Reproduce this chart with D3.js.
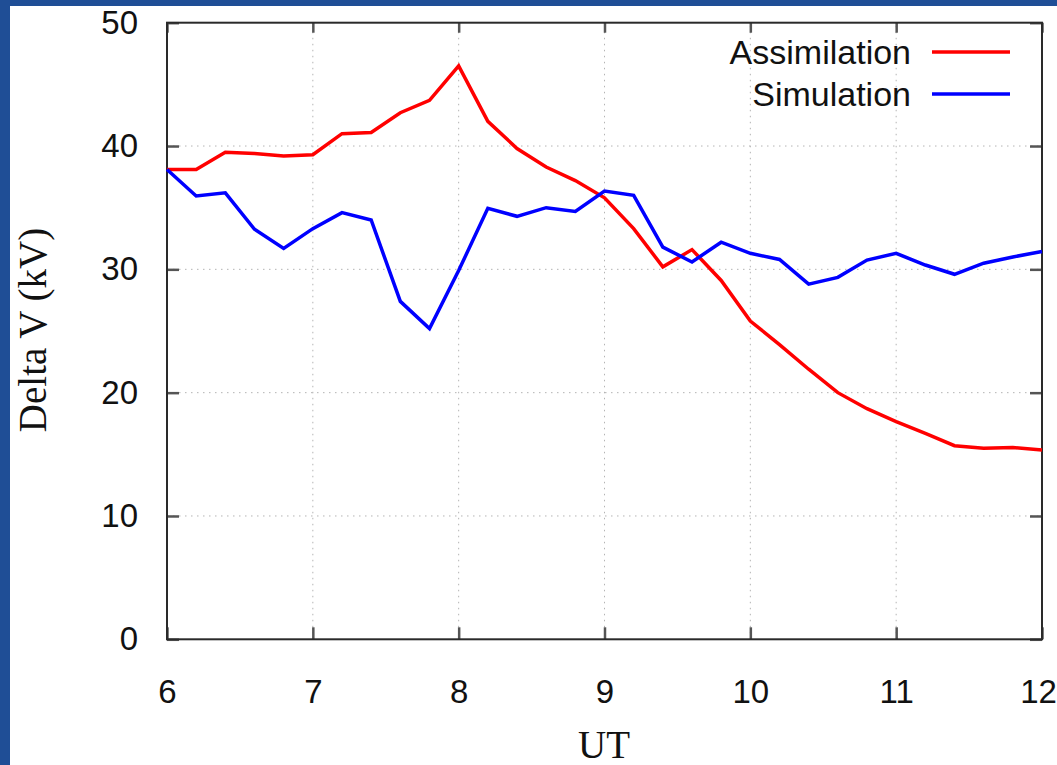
<!DOCTYPE html>
<html>
<head>
<meta charset="utf-8">
<script src="https://cdn.jsdelivr.net/npm/d3@7"></script>
<style>
  html, body { margin: 0; padding: 0; background: #1f4e96; }
  svg { display: block; }
</style>
</head>
<body>
<svg id="chart" width="1057" height="765"></svg>
<script>
// chart data
const ut = [6, 6.2, 6.4, 6.6, 6.8, 7, 7.2, 7.4, 7.6, 7.8, 8, 8.2, 8.4, 8.6, 8.8, 9,
            9.2, 9.4, 9.6, 9.8, 10, 10.2, 10.4, 10.6, 10.8, 11, 11.2, 11.4, 11.6, 11.8, 12];
const assimilation = [38.1, 38.1, 39.5, 39.4, 39.2, 39.3, 41.0, 41.1, 42.7, 43.7, 46.5,
                      42.0, 39.8, 38.3, 37.2, 35.8, 33.3, 30.2, 31.6, 29.1, 25.8,
                      23.9, 21.9, 20.0, 18.7, 17.65, 16.7, 15.7, 15.5, 15.55, 15.35];
const simulation = [38.1, 35.95, 36.2, 33.25, 31.7, 33.3, 34.6, 34.0, 27.4, 25.2, 29.9,
                    34.95, 34.3, 35.0, 34.7, 36.35, 36.0, 31.8, 30.6, 32.2, 31.3,
                    30.8, 28.8, 29.35, 30.75, 31.3, 30.35, 29.6, 30.5, 31.0, 31.45];
const seriesNames = ["Assimilation", "Simulation"];
const seriesColors = ["#ff0000", "#0000ff"];
const xTicks = [6, 7, 8, 9, 10, 11, 12];
const yTicks = [0, 10, 20, 30, 40, 50];

const svg = d3.select("#chart");
const plotLeft = 167, plotRight = 1042, plotTop = 22.7, plotBottom = 639.3;

// white panel inside the blue border
svg.append("rect")
    .attr("x", 10).attr("y", 6)
    .attr("width", 1047).attr("height", 759)
    .attr("fill", "#ffffff");

const x = d3.scaleLinear().domain([6, 12]).range([plotLeft, plotRight]);
const y = d3.scaleLinear().domain([0, 50]).range([plotBottom, plotTop]);

//dotted grid
const grid = svg.append("g").attr("class", "grid")
    .attr("stroke", "#b4b4b4")
    .attr("stroke-width", 1)
    .attr("stroke-dasharray", "1.5,4.5");

grid.selectAll("line.gx")
    .data(xTicks.slice(1, -1))
    .enter().append("line")
    .attr("x1", d => x(d)).attr("x2", d => x(d))
    .attr("y1", plotBottom).attr("y2", plotTop);

grid.selectAll("line.gy")
    .data(yTicks.slice(1, -1))
    .enter().append("line")
    .attr("x1", plotLeft).attr("x2", plotRight)
    .attr("y1", d => y(d)).attr("y2", d => y(d));

//axes with inward ticks
function styleAxis(g) {
    g.select(".domain").remove();
    g.selectAll(".tick line").attr("stroke", "#555").attr("stroke-width", 2.5);
    g.selectAll(".tick text")
        .attr("fill", "#111")
        .style("font-family", "'Liberation Sans', Arial, sans-serif")
        .style("font-size", "33px");
}

const xAxisG = svg.append("g")
    .attr("transform", `translate(0,${plotBottom})`)
    .call(d3.axisBottom(x).tickValues(xTicks).tickFormat(d3.format("d"))
        .tickSizeInner(-12).tickSizeOuter(0).tickPadding(40))
    .call(styleAxis);

// last label sits against the page edge, pull it in a little
xAxisG.selectAll(".tick text").filter(d => d === 12).attr("dx", "-4");

svg.append("g")
    .attr("transform", `translate(${plotLeft},0)`)
    .call(d3.axisLeft(y).tickValues(yTicks).tickSizeInner(-12).tickSizeOuter(0).tickPadding(29))
    .call(styleAxis);

svg.append("g")
    .attr("transform", `translate(0,${plotTop})`)
    .call(d3.axisTop(x).tickValues(xTicks).tickSizeInner(-10).tickSizeOuter(0).tickFormat(""))
    .call(styleAxis);

svg.append("g")
    .attr("transform", `translate(${plotRight},0)`)
    .call(d3.axisRight(y).tickValues(yTicks).tickSizeInner(-12).tickSizeOuter(0).tickFormat(""))
    .call(styleAxis);

//frame
svg.append("rect")
    .attr("x", plotLeft).attr("y", plotTop)
    .attr("width", plotRight - plotLeft).attr("height", plotBottom - plotTop)
    .attr("fill", "none")
    .attr("stroke", "#2a2a2a")
    .attr("stroke-width", 2);

//lines
const line = d3.line()
    .x((d, i) => x(ut[i]))
    .y(d => y(d));

[assimilation, simulation].forEach((values, i) => {
    svg.append("path")
        .datum(values)
        .attr("d", line)
        .attr("fill", "none")
        .attr("stroke", seriesColors[i])
        .attr("stroke-width", 3.5)
        .attr("stroke-linejoin", "miter");
});

//legend
const legend = svg.append("g").attr("class", "legend");
seriesNames.forEach((name, i) => {
    const ly = 52 + i * 42;
    legend.append("text")
        .attr("x", 911).attr("y", ly)
        .attr("dy", "0.35em")
        .attr("text-anchor", "end")
        .attr("fill", "#111")
        .style("font-family", "'Liberation Sans', Arial, sans-serif")
        .style("font-size", "34px")
        .text(name);
    legend.append("line")
        .attr("x1", 932).attr("x2", 1010)
        .attr("y1", ly).attr("y2", ly)
        .attr("stroke", seriesColors[i])
        .attr("stroke-width", 3.5);
});

//axis titles
svg.append("text")
    .attr("x", 604).attr("y", 758)
    .attr("text-anchor", "middle")
    .attr("fill", "#111")
    .style("font-family", "'Liberation Serif', 'Times New Roman', serif")
    .style("font-size", "39px")
    .text("UT");

svg.append("text")
    .attr("transform", "translate(46,330) rotate(-90)")
    .attr("text-anchor", "middle")
    .attr("fill", "#111")
    .style("font-family", "'Liberation Serif', 'Times New Roman', serif")
    .style("font-size", "39px")
    .text("Delta V (kV)");
</script>
</body>
</html>
